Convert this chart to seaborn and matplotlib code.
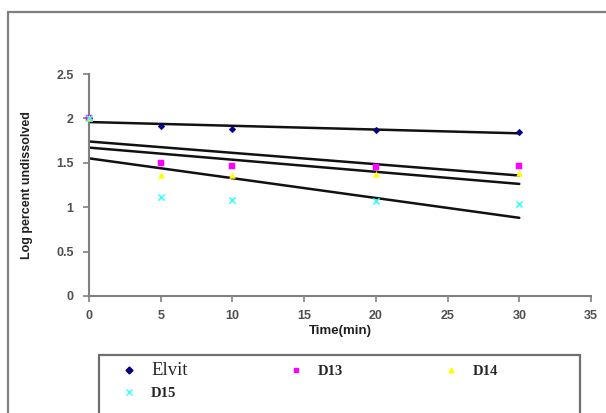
import matplotlib
matplotlib.use("Agg")
import matplotlib.pyplot as plt
import seaborn as sns
import pandas as pd
from matplotlib.patches import Rectangle
from matplotlib.lines import Line2D

time_min = [0, 5, 10, 20, 30]
elvit = [2.00, 1.92, 1.88, 1.87, 1.85]
d13 = [2.00, 1.50, 1.46, 1.45, 1.46]
d14 = [2.00, 1.36, 1.36, 1.37, 1.38]
d15 = [2.00, 1.11, 1.08, 1.07, 1.04]
series_names = ["Elvit", "D13", "D14", "D15"]
x_ticks = [0, 5, 10, 15, 20, 25, 30, 35]
y_ticks = [0, 0.5, 1, 1.5, 2, 2.5]

sns.set_theme(style="white")
plt.rcParams['font.family'] = ['Liberation Sans', 'DejaVu Sans']

rows = []
for name, vals in zip(series_names, [elvit, d13, d14, d15]):
    for t, v in zip(time_min, vals):
        rows.append({"Time": t, "LogPct": v, "Series": name})
df = pd.DataFrame(rows)

colors = {"Elvit": "#000080", "D13": "#ff00ff", "D14": "#ffff00", "D15": "#33ffff"}
markers = {"Elvit": "D", "D13": "s", "D14": "^", "D15": "x"}
sizes = {"Elvit": 12, "D13": 18, "D14": 18, "D15": 20}

fig = plt.figure(figsize=(6.06, 4.13), dpi=100)
ax = fig.add_axes([89/606, 1 - 296/413, (591-89)/606, (296-74)/413])

for name in series_names:
    sub = df[df.Series == name]
    sns.regplot(data=sub, x="Time", y="LogPct", scatter=False, ci=None,
                color="#111111", line_kws={"lw": 1.8}, ax=ax, truncate=True)
for name in series_names:
    sub = df[df.Series == name]
    kw = dict(marker=markers[name], s=sizes[name], color=colors[name], ax=ax,
              zorder=5, clip_on=False)
    if markers[name] == "x":
        kw["linewidth"] = 1.1
    else:
        kw["edgecolor"] = colors[name]
    sns.scatterplot(data=sub, x="Time", y="LogPct", **kw)

ax.set_xlim(0, 35)
ax.set_ylim(0, 2.5)
ax.set_xticks(x_ticks)
ax.set_yticks(y_ticks)
ax.set_xticklabels([str(t) for t in x_ticks])
ax.set_yticklabels([("%g" % t) for t in y_ticks])
for s in ["top", "right"]:
    ax.spines[s].set_visible(False)
for s in ["left", "bottom"]:
    ax.spines[s].set_color("#808080")
    ax.spines[s].set_linewidth(1.5)
ax.tick_params(axis="both", which="both", direction="out", length=4, width=1.2,
               color="#808080", labelsize=9, labelcolor="#505050",
               left=True, bottom=True)
ax.tick_params(axis="y", pad=7)
ax.tick_params(axis="x", pad=6)
for lab in ax.get_xticklabels() + ax.get_yticklabels():
    lab.set_fontweight("bold")
ax.set_xlabel("Time(min)", fontsize=9.5, fontweight="bold", labelpad=2, color="#202020")
ax.set_ylabel("Log percent undissolved", fontsize=9, fontweight="bold", labelpad=17, color="#202020")
ax.set_facecolor("white")

# outer frame
fig.patches.append(Rectangle((8/606, -0.2), 1.2, 1 - 12/413 + 0.2, transform=fig.transFigure,
                             fill=False, edgecolor="#7f7f7f", lw=1.6, zorder=0))
# legend box
fig.patches.append(Rectangle((99/606, -0.2), (580-99)/606, 1 - 355/413 + 0.2,
                             transform=fig.transFigure, fill=False, edgecolor="#6f6f6f",
                             lw=1.6, zorder=1))

legend_order = ["Elvit", "D15", "D13", "D14"]
handles = [Line2D([], [], ls="none", marker=markers[n], color=colors[n],
                  markersize=3.5 if n != "D15" else 4, markeredgewidth=1) for n in legend_order]
leg = fig.legend(handles, legend_order, ncol=3, loc="upper left",
                 bbox_to_anchor=(122/606, 1 - 362/413),
                 frameon=False, handlelength=1.0, handletextpad=1.0, columnspacing=6.9,
                 labelspacing=0.55, borderaxespad=0, borderpad=0.0,
                 prop={"family": "Liberation Serif", "weight": "bold", "size": 10.5})
for t in leg.get_texts():
    if t.get_text() == "Elvit":
        t.set_fontsize(13.5)
        t.set_fontweight("normal")

fig.savefig("out.png", dpi=100, facecolor="white")
